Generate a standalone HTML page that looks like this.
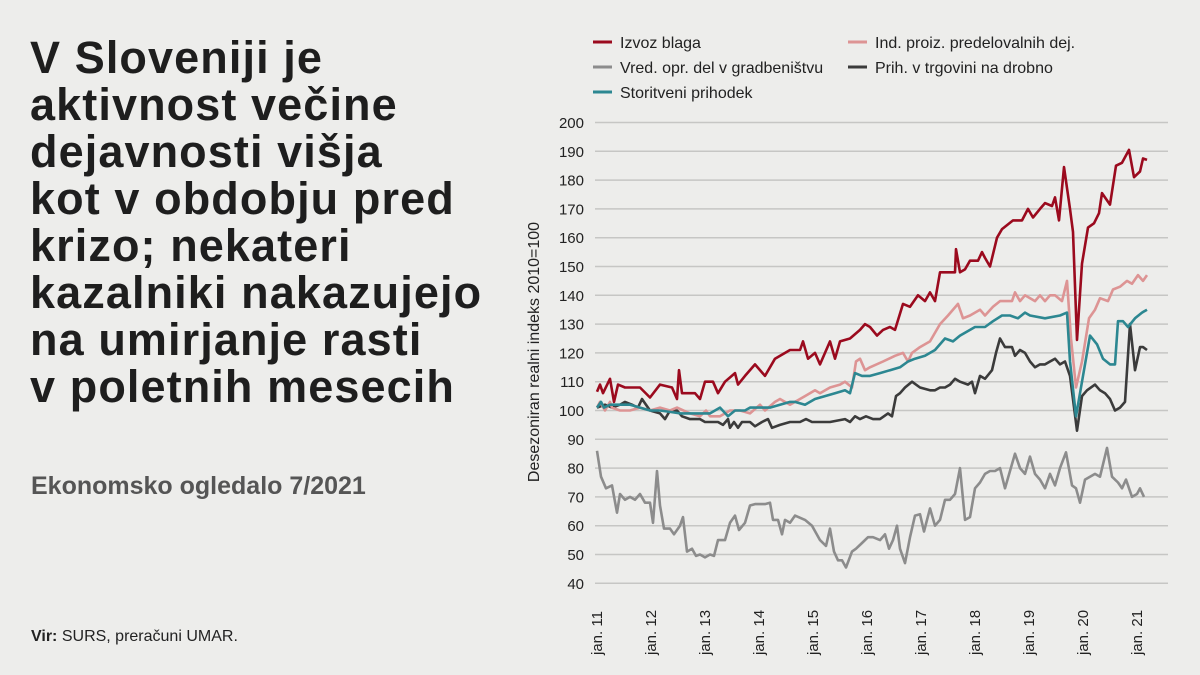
<!DOCTYPE html>
<html><head><meta charset="utf-8">
<style>
body{margin:0;width:1200px;height:675px;background:#ededeb;overflow:hidden;font-family:"Liberation Sans",sans-serif;}
#t{position:absolute;left:30px;top:34px;font-weight:bold;font-size:45px;line-height:47px;color:#1e1e1e;letter-spacing:1.1px}
#s{position:absolute;left:31px;top:472px;font-weight:bold;font-size:25px;color:#555}
#v{position:absolute;left:31px;top:628px;font-size:16px;color:#222}
svg{position:absolute;left:0;top:0}
</style></head><body>
<div id="t">V Sloveniji je<br>aktivnost večine<br>dejavnosti višja<br>kot v obdobju pred<br>krizo; nekateri<br>kazalniki nakazujejo<br>na umirjanje rasti<br>v poletnih mesecih</div>
<div id="s">Ekonomsko ogledalo 7/2021</div>
<div id="v"><b>Vir:</b> SURS, preračuni UMAR.</div>
<svg id="c" width="1200" height="675" font-family="Liberation Sans, sans-serif"></svg>
<script>
var svg=document.getElementById('c'),h='';
function Y(v){return 122.5+(200-v)*2.88;}
for(var v=40;v<=200;v+=10){var y=Y(v);h+='<line x1="595" x2="1168" y1="'+y+'" y2="'+y+'" stroke="#c6c6c4" stroke-width="1.5"/>';h+='<text x="584" y="'+(y+5.5)+'" text-anchor="end" font-size="15" fill="#222">'+v+'</text>';}
for(var i=0;i<11;i++){var x=597+54*i;h+='<text transform="translate('+(x+5)+',655) rotate(-90)" font-size="15" fill="#222">jan. '+(11+i)+'</text>';}
h+='<text transform="translate(539,352) rotate(-90)" text-anchor="middle" font-size="16" fill="#222">Desezoniran realni indeks 2010=100</text>';
var L=[["#9b0a1e",593,42,"Izvoz blaga"],["#dd9494",848,42,"Ind. proiz. predelovalnih dej."],["#8c8c8c",593,67,"Vred. opr. del v gradbeništvu"],["#3b3b3b",848,67,"Prih. v trgovini na drobno"],["#2c8791",593,92,"Storitveni prihodek"]];
L.forEach(function(l){h+='<line x1="'+l[1]+'" x2="'+(l[1]+19)+'" y1="'+l[2]+'" y2="'+l[2]+'" stroke="'+l[0]+'" stroke-width="3"/><text x="'+(l[1]+27)+'" y="'+(l[2]+6)+'" font-size="16" fill="#222">'+l[3]+'</text>';});
var S={
gray:[597,86,601,77,606,73,612,74,617,64.5,620,71,625,69,630,70,635,69,640,71,645,68,650,68,653,61,657,79,660,67,664,59,670,59,674,57,680,60,683,63,687,51,692,52,696,49.5,700,50,705,49,710,50,714,49.5,718,55,725,55,730,61,735,63.5,739,58.5,745,61,750,67,755,67.5,765,67.5,770,68,773,62,778,62,782,57,785,62,790,61,795,63.5,805,62,812,60,820,55,826,53,830,59,834,51,838,48,842,48,846,45.5,852,51,856,52,862,54,868,56,873,56,880,55,885,57,889,52,893,55,897,60,900,52,905,47,910,56,915,63.5,920,64,924,58,930,66,935,60,940,62,945,69,950,69,955,71,960,80,965,62,970,63,975,73,980,75,985,78,990,79,995,79,1000,80,1005,73,1010,79,1015,85,1020,80,1025,78,1030,84,1035,78,1040,76,1045,73,1050,78,1055,74,1060,80,1066,85.5,1072,74,1076,73,1080,68,1085,76,1090,77,1095,78,1100,77,1107,87,1112,77,1118,75,1122,73,1126,76,1132,70,1137,71,1140,73,1144,70],
dark:[597,101,605,102,612,101,620,102,625,103,632,102,638,101,642,104,650,100,660,99,665,97,670,100,677,100,682,98,690,97,700,97,705,96,718,96,723,95,728,97,730,94,734,96,738,94,742,96,750,96,755,94.5,762,96,768,97,772,94,780,95,790,96,800,96,806,97,812,96,830,96,845,97,850,96,855,98,860,97,866,98,873,97,880,97,888,99,892,98,896,105,900,106,905,108,912,110,920,108,930,107,935,107,940,108,945,108,950,109,955,111,960,110,968,109,972,110,975,106,980,112,985,111,992,114,996,120,1000,125,1005,122,1012,122,1015,119,1020,121,1025,120,1030,117,1035,115,1040,116,1045,116,1050,117,1055,118,1060,116,1065,117,1070,112,1077,93,1082,105,1087,107,1095,109,1100,107,1105,106,1110,104,1115,100,1120,101,1125,103,1130,130,1135,114,1140,122,1143,122,1147,121],
pink:[597,101,600,103,605,100,610,103,612,101,620,100,630,100,640,101,650,100,660,101,670,100,677,101,690,99,700,98,706,100,710,98,720,98,730,100,740,100,750,99,760,102,765,100,775,103,780,104,790,102,800,104,805,105,815,107,820,106,830,108,840,109,845,110,852,108,856,117,860,118,865,114,870,115,883,117,895,119,903,120,908,117,912,120,920,122,930,124,940,130,948,133,958,137,963,132,970,133,980,135,985,133,993,136,1000,138,1012,138,1015,141,1020,138,1025,140,1035,138,1040,140,1045,138,1050,140,1055,140,1062,138,1067,145,1071,125,1076,108,1082,117,1089,132,1095,135,1100,139,1108,138,1113,142,1120,143,1127,145,1132,144,1138,147,1143,145,1147,147],
teal:[597,101,601,103,604,101,610,102,620,102,630,102,640,101,650,100,660,100,670,99.5,680,99,690,99,700,99,710,99,720,101,728,98,735,100,745,100,750,101,760,101,770,101,780,102,790,103,795,103,805,102,815,104,825,105,835,106,845,107,850,106,855,113,862,112,870,112,880,113,890,114,900,115,908,117,915,118,925,119,935,121,945,125,953,124,960,126,965,127,975,129,985,129,993,131,1002,133,1010,133,1018,132,1025,134,1030,133,1045,132,1060,133,1067,134,1070,117,1076,98,1082,110,1090,126,1097,123,1103,118,1110,116,1115,116,1118,131,1123,131,1128,129,1135,132,1142,134,1147,135],
red:[597,106.5,600,109,603,106,610,111,614,103,618,109,625,108,640,108,650,104.5,660,109,672,108,677,104,679,114,682,106,695,106,700,104,705,110,713,110,718,106,725,110,735,113,738,109,745,112,755,116,765,112,775,118,790,121,800,121,803,124,808,118,815,120,820,116,830,124,835,118,840,124,850,125,860,128,865,130,870,129,877,126,883,128,890,129,895,128,903,137,910,136,918,140,925,138,930,141,935,138,940,148,948,148,955,148,956,156,960,148,965,149,970,152,978,152,982,155,985,153,990,150,997,160,1002,163,1013,166,1022,166,1028,170,1033,167,1040,170,1045,172,1052,171,1055,174,1059,166,1064,184.5,1070,170,1073,162,1077,124.5,1082,151,1088,163.5,1094,165,1099,168.5,1102,175.5,1110,171.5,1116,185,1122,186,1129,190.5,1134,181,1140,183,1143,187.5,1147,187]};
var C={gray:"#8c8c8c",dark:"#3b3b3b",pink:"#dd9494",teal:"#2c8791",red:"#9b0a1e"};
["gray","dark","pink","teal","red"].forEach(function(k){var a=S[k],p=[];for(var i=0;i<a.length;i+=2)p.push(a[i]+','+Y(a[i+1]).toFixed(1));h+='<polyline points="'+p.join(' ')+'" fill="none" stroke="'+C[k]+'" stroke-width="2.6" stroke-linejoin="round"/>';});
svg.innerHTML=h;
</script>
</body></html>
